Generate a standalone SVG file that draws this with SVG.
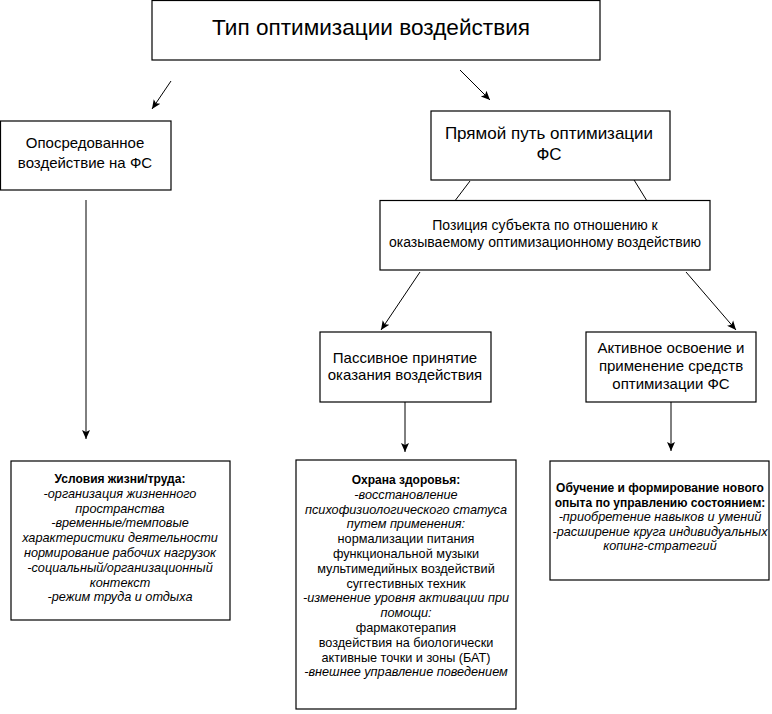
<svg xmlns="http://www.w3.org/2000/svg" width="772" height="714" viewBox="0 0 772 714">
<style>
.box{fill:#fff;stroke:#000;stroke-width:1.2}
text{font-family:"Liberation Sans",Arial,sans-serif;fill:#000;text-anchor:middle}
.t1{font-size:22.6px}
.t2{font-size:15px}
.t4{font-size:17px}
.t3{font-size:14px}
.s{font-size:12.7px}
.b{font-weight:bold;font-size:12px}
.i{font-style:italic}
.c{stroke:#000;stroke-width:1;fill:none}
</style>
<defs>
<marker id="ah" markerWidth="10" markerHeight="10" refX="9" refY="5" orient="auto" markerUnits="userSpaceOnUse">
<path d="M0,1 L9,5 L0,9 L2,5 Z" fill="#000"/>
</marker>
</defs>
<rect width="772" height="714" fill="#fff"/>
<g id="connectors">
<line class="c" x1="171" y1="81" x2="152" y2="109" marker-end="url(#ah)"/>
<line class="c" x1="460" y1="70" x2="490" y2="100" marker-end="url(#ah)"/>
<line class="c" x1="86" y1="200" x2="86" y2="439" marker-end="url(#ah)"/>
<line class="c" x1="470" y1="181" x2="451" y2="206"/>
<line class="c" x1="631" y1="175" x2="647" y2="201"/>
<line class="c" x1="420" y1="272" x2="381" y2="330" marker-end="url(#ah)"/>
<line class="c" x1="686" y1="272" x2="736" y2="330" marker-end="url(#ah)"/>
<line class="c" x1="405" y1="402" x2="405" y2="452" marker-end="url(#ah)"/>
<line class="c" x1="671" y1="401" x2="671" y2="451" marker-end="url(#ah)"/>
</g>
<g id="n-type">
<rect class="box" x="152" y="0.5" width="448" height="59.5"/>
<text class="t1" x="371" y="35">Тип оптимизации воздействия</text>
</g>
<g id="n-indirect">
<rect class="box" x="0.5" y="121" width="170.5" height="69"/>
<text class="t2" x="85" y="148">Опосредованное</text>
<text class="t2" x="85" y="168">воздействие на ФС</text>
</g>
<g id="n-direct">
<rect class="box" x="431" y="111" width="239" height="69"/>
<text class="t4" x="549" y="139">Прямой путь оптимизации</text>
<text class="t4" x="549" y="160">ФС</text>
</g>
<g id="n-position">
<rect class="box" x="380" y="200.5" width="330" height="69.5"/>
<text class="t3" x="545" y="230">Позиция субъекта по отношению к</text>
<text class="t3" x="545" y="247">оказываемому оптимизационному воздействию</text>
</g>
<g id="n-passive">
<rect class="box" x="320" y="332" width="171" height="70"/>
<text class="t2" x="405" y="363">Пассивное принятие</text>
<text class="t2" x="405" y="380">оказания воздействия</text>
</g>
<g id="n-active">
<rect class="box" x="586" y="332" width="170" height="70"/>
<text class="t2" x="671" y="353">Активное освоение и</text>
<text class="t2" x="671" y="371">применение средств</text>
<text class="t2" x="671" y="389">оптимизации ФС</text>
</g>
<g id="n-conditions">
<rect class="box" x="11" y="461" width="219" height="159"/>
<text class="s b" x="120" y="483">Условия жизни/труда:</text>
<text class="s i" x="120" y="497.8">-организация жизненного</text>
<text class="s i" x="120" y="512.6">пространства</text>
<text class="s i" x="120" y="527.4">-временные/темповые</text>
<text class="s i" x="120" y="542.2">характеристики деятельности</text>
<text class="s i" x="120" y="557">нормирование рабочих нагрузок</text>
<text class="s i" x="120" y="571.8">-социальный/организационный</text>
<text class="s i" x="120" y="586.6">контекст</text>
<text class="s i" x="120" y="601.4">-режим труда и отдыха</text>
</g>
<g id="n-health">
<rect class="box" x="296" y="460" width="220" height="249"/>
<text class="s b" x="406" y="484">Охрана здоровья:</text>
<text class="s i" x="406" y="498.8">-восстановление</text>
<text class="s i" x="406" y="513.6">психофизиологического статуса</text>
<text class="s i" x="406" y="528.4">путем применения:</text>
<text class="s" x="406" y="543.2">нормализации питания</text>
<text class="s" x="406" y="558">функциональной музыки</text>
<text class="s" x="406" y="572.8">мультимедийных воздействий</text>
<text class="s" x="406" y="587.6">суггестивных техник</text>
<text class="s i" x="406" y="602.4">-изменение уровня активации при</text>
<text class="s i" x="406" y="617.2">помощи:</text>
<text class="s" x="406" y="632">фармакотерапия</text>
<text class="s" x="406" y="646.8">воздействия на биологически</text>
<text class="s" x="406" y="661.6">активные точки и зоны (БАТ)</text>
<text class="s i" x="406" y="676.4">-внешнее управление поведением</text>
</g>
<g id="n-learning">
<rect class="box" x="550" y="461" width="219" height="119"/>
<text class="s b" x="660" y="492">Обучение и формирование нового</text>
<text class="s b" x="660" y="506.5">опыта по управлению состоянием:</text>
<text class="s i" x="660" y="521">-приобретение навыков и умений</text>
<text class="s i" x="660" y="535.5">-расширение круга индивидуальных</text>
<text class="s i" x="660" y="550">копинг-стратегий</text>
</g>
</svg>
